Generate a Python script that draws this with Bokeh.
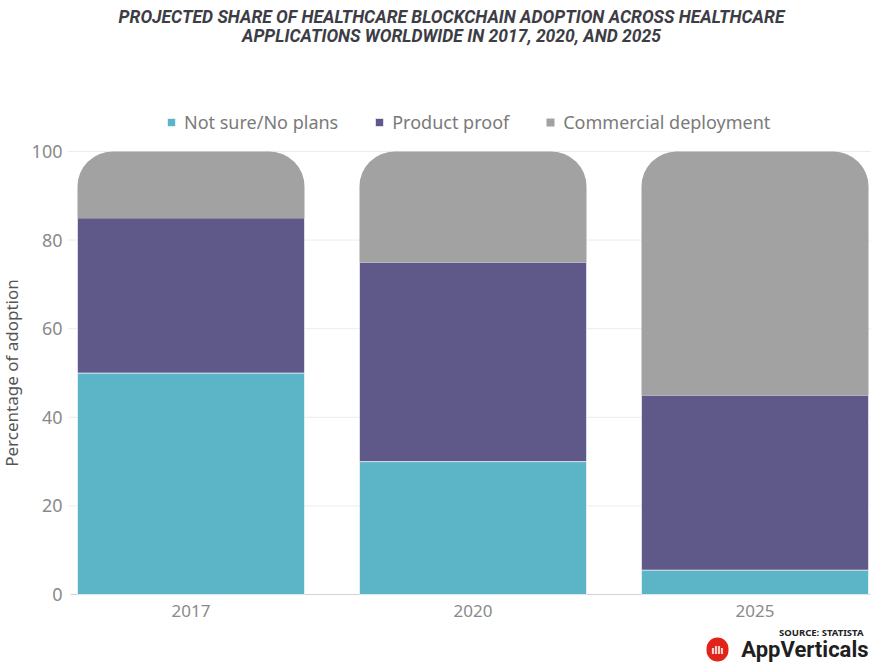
import math
from bokeh.plotting import figure
from bokeh.models import Range1d, Legend, LegendItem, Label
from bokeh.core.properties import value
from bokeh.embed import file_html
from bokeh.resources import INLINE

years = ["2017", "2020", "2025"]
not_sure = [50, 30, 5.5]
product_proof = [35, 45, 39.5]
commercial = [15, 25, 55]
series_names = ["Not sure/No plans", "Product proof", "Commercial deployment"]
colors = ["#5bb5c7", "#5f598a", "#a2a2a2"]
y_ticks = [0, 20, 40, 60, 80, 100]
title_lines = ["PROJECTED SHARE OF HEALTHCARE BLOCKCHAIN ADOPTION ACROSS HEALTHCARE",
               "APPLICATIONS WORLDWIDE IN 2017, 2020, AND 2025"]
y_label = "Percentage of adoption"
source_text = "SOURCE: STATISTA"
brand_text = "AppVerticals"

FONT = "Noto Sans"

# frame covers whole figure; ranges chosen so that 0..100 sits where the reference plot area is
PX_X = 282.0   # px per category
PX_Y = 4.43    # px per percent
X0 = 0.5 - 190.5 / PX_X
Y0 = -(663 - 594) / PX_Y

def px_x(px):
    return X0 + px / PX_X

def px_y(py):
    return 100 + (151 - py) / PX_Y

x = [i + 0.5 for i in range(len(years))]
b1 = [0] * len(years)
t1 = [b + v for b, v in zip(b1, not_sure)]
t2 = [b + v for b, v in zip(t1, product_proof)]
t3 = [b + v for b, v in zip(t2, commercial)]

p = figure(width=873, height=663,
           x_range=Range1d(X0, X0 + 873 / PX_X), y_range=Range1d(Y0, Y0 + 663 / PX_Y),
           output_backend="svg", toolbar_location=None,
           min_border=0, x_axis_type=None, y_axis_type=None)
p.outline_line_color = None
p.background_fill_color = "white"
p.xgrid.visible = False
p.ygrid.visible = False

# grid lines and baseline
p.segment(x0=px_x(67), x1=px_x(870), y0=y_ticks[1:], y1=y_ticks[1:], line_color="#ececec", line_width=1)
p.segment(x0=px_x(70), x1=px_x(870), y0=y_ticks[:1], y1=y_ticks[:1], line_color="#d4d4d4", line_width=1.2)

W = 0.805
r1 = p.vbar(x=x, bottom=b1, top=t1, width=W, fill_color=colors[0], line_color="white", line_width=0.6)
r2 = p.vbar(x=x, bottom=t1, top=t2, width=W, fill_color=colors[1], line_color="white", line_width=0.6)
r3 = p.vbar(x=x, bottom=t2, top=t3, width=W, fill_color=colors[2], line_color=None,
            border_radius=(35, 35, 0, 0))

# axis tick labels
p.text(x=[px_x(62)] * len(y_ticks), y=y_ticks, text=[str(t) for t in y_ticks],
       text_align="right", text_baseline="middle", text_font=value(FONT),
       text_font_size="18px", text_color="#8a8a8a")
p.text(x=x, y=[px_y(610)] * len(x), text=years, text_align="center", text_baseline="middle",
       text_font=value(FONT), text_font_size="17px", text_color="#8a8a8a")
p.text(x=[px_x(11)], y=[50], text=[y_label], angle=math.pi / 2, text_align="center",
       text_baseline="middle", text_font=value(FONT), text_font_size="17px", text_color="#555555")

# title
p.text(x=[px_x(451)] * 2, y=[px_y(16), px_y(35)], text=title_lines, text_align="center",
       text_baseline="middle", text_font=value("Roboto"), text_font_style="bold italic",
       text_font_size="17.5px", text_color="#3d3d45")

legend = Legend(items=[LegendItem(label=n, renderers=[r]) for n, r in zip(series_names, [r1, r2, r3])],
                orientation="horizontal", location=(166, 663 - 134),
                glyph_width=10, glyph_height=10, label_height=20, label_standoff=8,
                label_text_font=FONT, label_text_font_size="18px", label_text_color="#7a7a7a",
                spacing=36, padding=0, margin=0, border_line_color=None, background_fill_alpha=0)
p.add_layout(legend, "center")

# source / logo
p.add_layout(Label(x=px_x(863), y=px_y(632), text=source_text, text_align="right", text_baseline="middle",
                   text_font=FONT, text_font_style="bold", text_font_size="9.5px", text_color="#222222"))
p.add_layout(Label(x=px_x(868), y=px_y(649), text=brand_text, text_align="right", text_baseline="middle",
                   text_font="Roboto", text_font_style="bold", text_font_size="22px", text_color="#1f1f1f"))
p.add_layout(Label(x=px_x(717), y=px_y(649), text="ıllı", text_align="center", text_baseline="middle",
                   text_font=FONT, text_font_style="bold", text_font_size="10px", text_color="white",
                   background_fill_color="#e2231a", border_radius=11, padding=5))

open("out.html", "w").write(file_html(p, INLINE))
